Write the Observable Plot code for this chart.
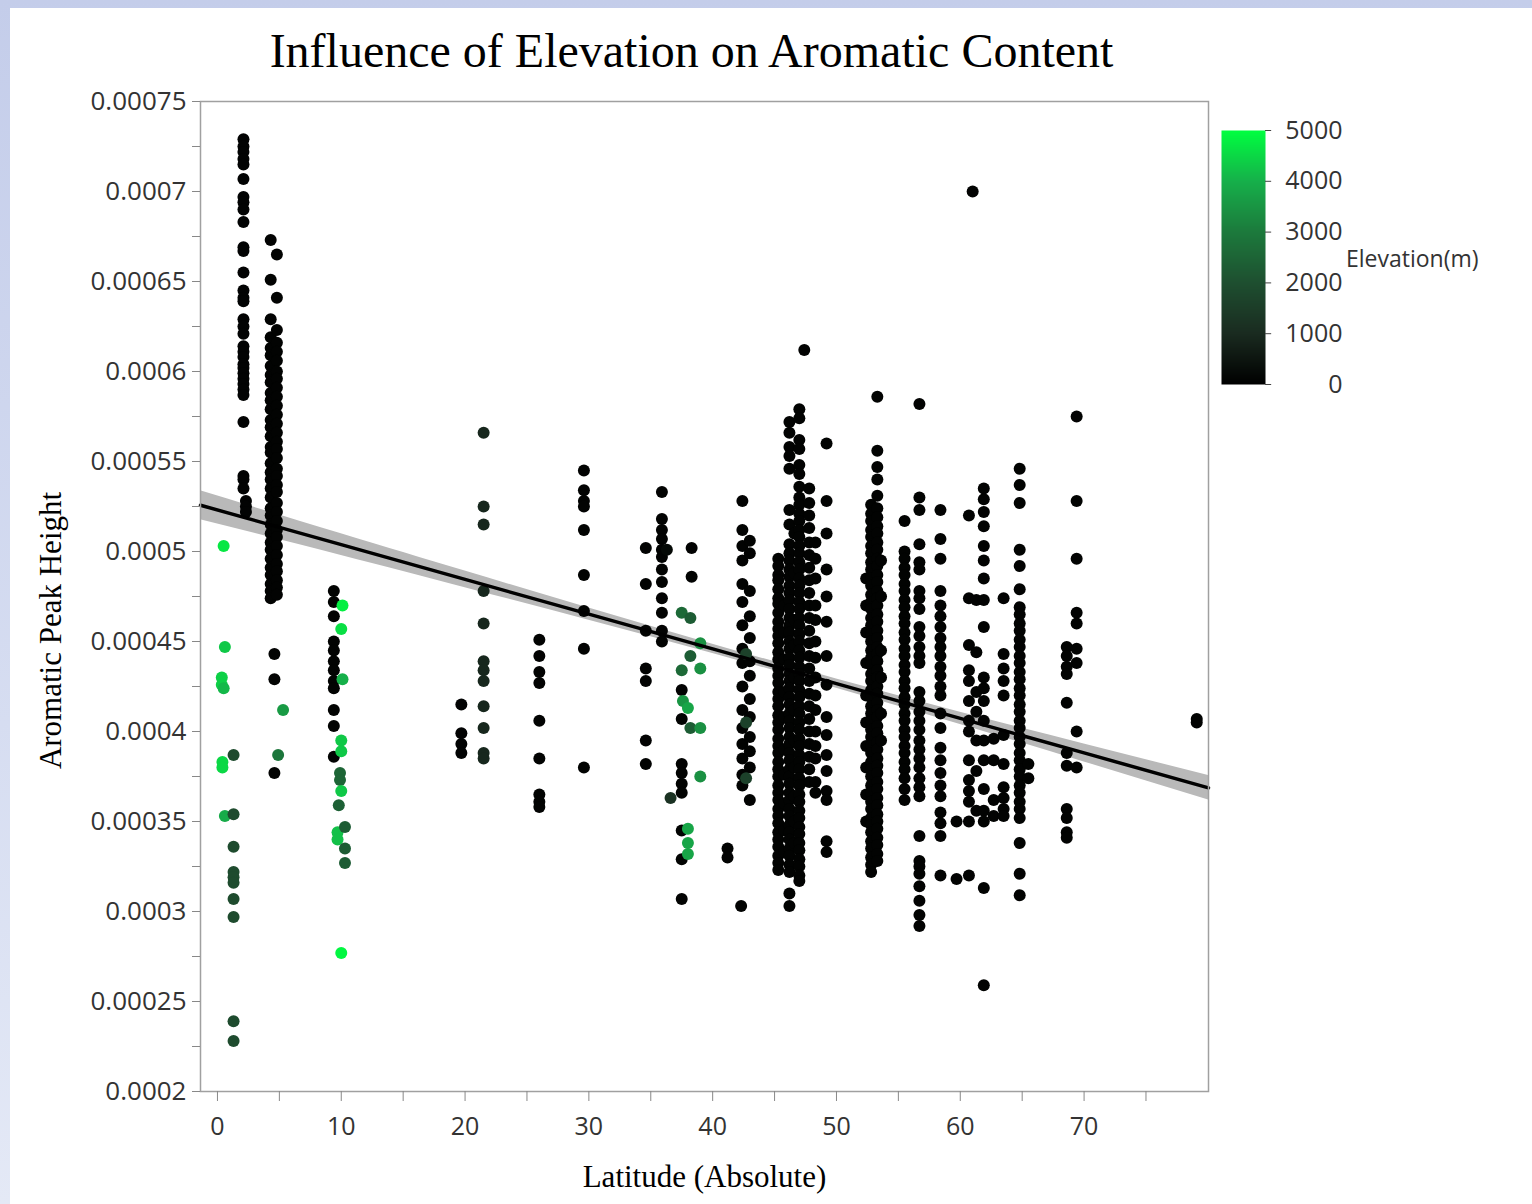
<!DOCTYPE html>
<html>
<head>
<meta charset="utf-8">
<script src="https://cdn.jsdelivr.net/npm/d3@7"></script>
<script src="https://cdn.jsdelivr.net/npm/@observablehq/plot@0.6"></script>
<style>
html, body { margin: 0; padding: 0; }
body { width: 1532px; height: 1204px; position: relative; overflow: hidden;
  background: linear-gradient(180deg, #c4cdea 0%, #d6ddf1 60%, #e4e9f6 100%); }
#panel { position: absolute; left: 10px; top: 8px; right: 0; bottom: 0; background: #fff; }
#title { position: absolute; left: 0; width: 1383px; top: 27px; text-align: center;
  font-family: "Liberation Serif", "Times New Roman", serif; font-size: 48px; line-height: 48px; color: #000; white-space: nowrap; }
#chart { position: absolute; left: 0; top: 0; }
#legend { position: absolute; left: 1180px; top: 100px; }
#legendTitle { position: absolute; left: 1346px; top: 243px; font-family: "Open Sans", sans-serif; font-size: 23px; line-height: 30px; color: #333; white-space: nowrap; }
</style>
</head>
<body>
<div id="panel"></div>
<div id="title">Influence of Elevation on Aromatic Content</div>
<div id="chart"></div>
<div id="legend"></div>
<div id="legendTitle">Elevation(m)</div>
<script>
// ---------- data (aromatic peak height in units of 1e-4) ----------
// each row: [absolute latitude, elevation (m), list of aromatic peak heights ×1e4]
const tropics = [
  [0.5, 4700, [5.03]],
  [0.6, 4300, [4.47]],
  [0.35, 4400, [4.30, 4.26]],
  [0.5, 4100, [4.24]],
  [0.4, 4500, [3.83, 3.80]],
  [0.6, 3900, [3.53]],
  [1.3, 1900, [3.87, 3.54, 3.36, 3.22, 3.19, 3.16, 3.07, 2.97, 2.39, 2.28]],
  [2.1, 80, [7.29, 7.25, 7.22, 7.18, 7.15, 7.07, 6.97, 6.94, 6.90, 6.83, 6.69, 6.67, 6.55, 6.45, 6.41, 6.39, 6.29, 6.25, 6.21, 6.14, 6.11, 6.08, 6.04, 6.02, 5.99, 5.96, 5.93, 5.90, 5.87, 5.72, 5.42, 5.40, 5.35]],
  [2.3, 80, [5.28, 5.25, 5.22]],
  [4.3, 60, [6.73, 6.51, 6.29, 6.19, 6.13, 6.09, 6.03, 5.98, 5.94, 5.88, 5.84, 5.79, 5.73, 5.69, 5.64, 5.58, 5.55, 5.49, 5.44, 5.40, 5.35, 5.30, 5.24, 5.20, 5.15, 5.10, 5.05, 5.01, 4.96, 4.91, 4.87, 4.82, 4.78, 4.74]],
  [4.8, 60, [6.65, 6.41, 6.23, 6.16, 6.11, 6.06, 6.00, 5.96, 5.91, 5.86, 5.81, 5.76, 5.71, 5.66, 5.61, 5.57, 5.52, 5.46, 5.42, 5.37, 5.33, 5.27, 5.22, 5.17, 5.12, 5.08, 5.03, 4.98, 4.93, 4.89, 4.84, 4.80, 4.76]],
  [4.6, 100, [4.43, 4.29, 3.77]],
  [4.9, 2900, [3.87]],
  [5.3, 3600, [4.12]],
  [9.4, 60, [4.78, 4.72, 4.64, 4.50, 4.45, 4.39, 4.34, 4.28, 4.24, 4.12, 4.03, 3.86]],
  [10.1, 4800, [4.70]],
  [10.0, 4600, [4.57]],
  [10.1, 4000, [4.29]],
  [10.0, 4300, [3.95, 3.89]],
  [9.9, 2500, [3.77, 3.73]],
  [10.0, 4300, [3.67]],
  [9.8, 2400, [3.59]],
  [9.7, 4200, [3.44, 3.40]],
  [10.3, 2300, [3.47, 3.35, 3.27]],
  [10.0, 4900, [2.77]]
];
const subtropics = [
  [19.7, 80, [4.15, 3.99, 3.93, 3.88]],
  [21.5, 900, [5.66, 5.25, 5.15, 4.78, 4.60, 4.39, 4.34, 4.28, 4.14, 4.02, 3.88, 3.85]],
  [26.0, 60, [4.51, 4.42, 4.33, 4.27, 4.06, 3.85, 3.65, 3.61, 3.58]],
  [29.6, 60, [5.45, 5.34, 5.28, 5.25, 5.12, 4.87, 4.67, 4.46, 3.80]],
  [34.6, 60, [5.02, 4.82, 4.56, 4.35, 4.28, 3.95, 3.82]],
  [35.9, 60, [5.33, 5.18, 5.12, 5.07, 5.01, 4.97, 4.90, 4.83, 4.74, 4.66, 4.56, 4.50]],
  [36.3, 200, [5.01]],
  [36.6, 1200, [3.63]],
  [38.3, 60, [5.02, 4.86]],
  [37.5, 60, [4.23, 4.07, 3.82, 3.77, 3.71, 3.66, 3.45, 3.29, 3.07]],
  [37.5, 2600, [4.66, 4.34]],
  [37.6, 3500, [4.17]],
  [38.2, 2300, [4.63, 4.42, 4.02]],
  [39.0, 3400, [4.49, 4.35, 4.02, 3.75]],
  [38.0, 3800, [4.13, 3.46, 3.38, 3.32]],
  [41.2, 60, [3.35, 3.30]],
  [42.3, 60, [3.03]]
];
const midLatitudes = [
  [42.4, 60, [5.28, 5.12, 5.03, 4.95, 4.82, 4.72, 4.59, 4.46, 4.38, 4.25, 4.12, 4.02, 3.93, 3.85, 3.76, 3.70]],
  [43.0, 60, [5.06, 4.99, 4.78, 4.64, 4.52, 4.39, 4.31, 4.18, 4.08, 3.97, 3.89, 3.80, 3.62]],
  [42.7, 1600, [4.43, 4.05, 3.74]],
  [45.3, 60, [4.96, 4.92, 4.87, 4.84, 4.79, 4.74, 4.71, 4.66, 4.61, 4.57, 4.53, 4.49, 4.44, 4.40, 4.35, 4.31, 4.27, 4.22, 4.18, 4.14, 4.09, 4.05, 4.01, 3.96, 3.92, 3.88, 3.83, 3.79, 3.75, 3.70, 3.66, 3.62, 3.57, 3.53, 3.49, 3.44, 3.40, 3.36, 3.31, 3.27, 3.23]],
  [45.8, 60, [4.70, 4.55, 4.40, 4.22, 4.08, 3.90, 3.76, 3.60, 3.45, 3.33]],
  [46.2, 60, [5.72, 5.66, 5.58, 5.53, 5.46, 5.23, 5.15, 5.04, 4.99, 4.95, 4.90, 4.86, 4.81, 4.77, 4.73, 4.68, 4.63, 4.59, 4.55, 4.50, 4.46, 4.41, 4.37, 4.32, 4.28, 4.24, 4.19, 4.15, 4.10, 4.06, 4.02, 3.97, 3.93, 3.88, 3.84, 3.79, 3.75, 3.71, 3.66, 3.62, 3.57, 3.53, 3.48, 3.44, 3.40, 3.35, 3.31, 3.26, 3.22, 3.10, 3.03]],
  [46.6, 60, [5.10, 4.88, 4.62, 4.48, 4.30, 4.12, 3.95, 3.80, 3.64, 3.50, 3.38]],
  [47.0, 60, [5.79, 5.74, 5.62, 5.57, 5.48, 5.43, 5.36, 5.30, 5.26, 5.21, 5.17, 5.12, 5.08, 5.03, 4.99, 4.94, 4.90, 4.85, 4.81, 4.77, 4.72, 4.68, 4.63, 4.59, 4.54, 4.50, 4.45, 4.41, 4.36, 4.32, 4.28, 4.23, 4.19, 4.14, 4.10, 4.05, 4.01, 3.96, 3.92, 3.87, 3.83, 3.79, 3.74, 3.70, 3.65, 3.61, 3.56, 3.52, 3.47, 3.43, 3.38, 3.34, 3.29, 3.25, 3.20, 3.17]],
  [47.4, 60, [6.12]],
  [47.8, 60, [5.35, 5.27, 5.20, 5.13, 5.05, 4.98, 4.91, 4.84, 4.77, 4.70, 4.63, 4.56, 4.49, 4.42, 4.35, 4.28, 4.21, 4.14, 4.07, 4.00, 3.93, 3.86, 3.79, 3.72]],
  [48.3, 60, [5.05, 4.96, 4.85, 4.70, 4.62, 4.50, 4.41, 4.30, 4.20, 4.12, 4.00, 3.92, 3.85, 3.72, 3.66]],
  [49.2, 60, [5.60, 5.28, 5.10, 4.90, 4.75, 4.61, 4.42, 4.26, 4.08, 3.98, 3.87, 3.78, 3.67, 3.62, 3.39, 3.33]],
  [52.4, 60, [4.85, 4.70, 4.55, 4.38, 4.20, 4.05, 3.92, 3.80, 3.65, 3.50]],
  [52.8, 60, [5.26, 5.21, 5.17, 5.12, 5.08, 5.03, 4.99, 4.94, 4.90, 4.85, 4.81, 4.76, 4.72, 4.68, 4.63, 4.59, 4.54, 4.50, 4.45, 4.41, 4.37, 4.32, 4.28, 4.23, 4.19, 4.14, 4.10, 4.06, 4.01, 3.97, 3.92, 3.88, 3.83, 3.79, 3.75, 3.70, 3.66, 3.61, 3.57, 3.52, 3.48, 3.44, 3.39, 3.35, 3.30, 3.26, 3.22]],
  [53.3, 60, [5.86, 5.56, 5.47, 5.40, 5.31, 5.24, 5.19, 5.14, 5.10, 5.05, 5.01, 4.96, 4.92, 4.87, 4.83, 4.78, 4.74, 4.70, 4.65, 4.61, 4.56, 4.52, 4.47, 4.43, 4.39, 4.34, 4.30, 4.25, 4.21, 4.16, 4.12, 4.08, 4.03, 3.99, 3.94, 3.90, 3.85, 3.81, 3.77, 3.72, 3.68, 3.63, 3.59, 3.54, 3.50, 3.46, 3.41, 3.37, 3.32, 3.28]],
  [53.6, 60, [4.95, 4.75, 4.45, 4.30, 4.10, 3.95]],
  [55.5, 60, [5.17, 5.00, 4.96, 4.91, 4.87, 4.82, 4.78, 4.73, 4.69, 4.64, 4.60, 4.55, 4.51, 4.46, 4.42, 4.37, 4.33, 4.28, 4.24, 4.19, 4.15, 4.10, 4.06, 4.01, 3.97, 3.92, 3.88, 3.83, 3.79, 3.74, 3.68, 3.62]],
  [56.7, 60, [5.82, 5.30, 5.23, 5.04, 4.94, 4.90, 4.78, 4.74, 4.68, 4.58, 4.53, 4.47, 4.42, 4.38, 4.22, 4.17, 4.11, 4.06, 4.01, 3.95, 3.90, 3.85, 3.80, 3.74, 3.69, 3.64, 3.42, 3.28, 3.25, 3.21, 3.14, 3.06, 2.98, 2.92]],
  [58.4, 60, [5.23, 5.07, 4.96, 4.78, 4.70, 4.64, 4.58, 4.52, 4.47, 4.42, 4.36, 4.31, 4.25, 4.20, 4.10, 4.02, 3.91, 3.84, 3.77, 3.70, 3.64, 3.55, 3.49, 3.42, 3.20]],
  [59.7, 60, [3.50, 3.18]]
];
const highLatitudes = [
  [61.0, 60, [7.00]],
  [60.7, 60, [5.20, 4.74, 4.48, 4.34, 4.28, 4.17, 4.06, 4.00, 3.84, 3.73, 3.67, 3.61, 3.50, 3.20]],
  [61.3, 60, [4.73, 4.44, 4.22, 4.11, 3.95, 3.78, 3.56]],
  [61.9, 60, [5.35, 5.29, 5.22, 5.14, 5.03, 4.95, 4.85, 4.73, 4.58, 4.30, 4.24, 4.17, 4.06, 3.95, 3.84, 3.68, 3.56, 3.50, 3.13, 2.59]],
  [62.7, 60, [3.96, 3.84, 3.62, 3.53]],
  [63.5, 60, [4.74, 4.43, 4.35, 4.28, 4.20, 3.98, 3.82, 3.69, 3.63, 3.57, 3.53]],
  [64.8, 60, [5.46, 5.37, 5.27, 5.01, 4.92, 4.79, 4.69, 4.65, 4.60, 4.56, 4.51, 4.47, 4.42, 4.38, 4.33, 4.29, 4.24, 4.20, 4.15, 4.11, 4.06, 4.02, 3.97, 3.93, 3.88, 3.84, 3.79, 3.75, 3.70, 3.66, 3.61, 3.57, 3.52, 3.38, 3.21, 3.09]],
  [65.5, 60, [3.82, 3.74]],
  [68.6, 60, [4.47, 4.42, 4.36, 4.32, 4.16, 3.88, 3.81, 3.57, 3.52, 3.44, 3.41]],
  [69.4, 60, [5.75, 5.28, 4.96, 4.66, 4.60, 4.46, 4.38, 4.00, 3.80]],
  [79.1, 60, [4.07, 4.05]]
];

// fitted regression line with its confidence band (×1e4)
const fitLat = [-1.37, 10, 20, 30, 40, 50, 60, 70, 80.05];
const fitValue = [5.257, 5.038, 4.845, 4.652, 4.459, 4.266, 4.073, 3.881, 3.687];
const fitHalfWidth = [0.08, 0.06, 0.046, 0.034, 0.026, 0.026, 0.034, 0.05, 0.068];

// axes and legend ticks
const xTicks = [0, 10, 20, 30, 40, 50, 60, 70];
const xMinorTicks = [5, 15, 25, 35, 45, 55, 65, 75];
const yTicks = [0.0002, 0.00025, 0.0003, 0.00035, 0.0004, 0.00045, 0.0005, 0.00055, 0.0006, 0.00065, 0.0007, 0.00075];
const yMinorTicks = [0.000225, 0.000275, 0.000325, 0.000375, 0.000425, 0.000475, 0.000525, 0.000575, 0.000625, 0.000675, 0.000725];
const legendTicks = [0, 1000, 2000, 3000, 4000, 5000];
const elevationStops = [0, 1000, 2000, 3000, 4000, 5000];
const elevationColors = ["#000000", "#1a2b20", "#1e4f30", "#1c7a3c", "#16b04a", "#00ff40"];

// ---------- build tables ----------
const UNIT = 1e-4;
const rows = [];
for (const group of [tropics, subtropics, midLatitudes, highLatitudes]) {
  for (const [lat, elevation, values] of group) {
    for (const v of values) rows.push({lat, elevation, aromatic: v * UNIT});
  }
}
const fitRows = fitLat.map((lat, i) => ({
  lat,
  fit: fitValue[i] * UNIT,
  lo: (fitValue[i] - fitHalfWidth[i]) * UNIT,
  hi: (fitValue[i] + fitHalfWidth[i]) * UNIT
}));

const colorScale = {type: "linear", domain: elevationStops, range: elevationColors, clamp: true};
const tickFont = "'Open Sans', 'Noto Sans', sans-serif";
const serif = "'Liberation Serif', 'Times New Roman', serif";

const chart = Plot.plot({
  width: 1215,
  height: 1204,
  marginLeft: 200,
  marginTop: 101,
  marginRight: 7,
  marginBottom: 113,
  style: {background: "transparent", fontFamily: tickFont, fontSize: "25px", color: "#333", overflow: "visible"},
  x: {domain: [-1.37, 80.05], label: null},
  y: {domain: [0.0002, 0.00075], label: null},
  color: colorScale,
  marks: [
    Plot.areaY(fitRows, {x: "lat", y1: "lo", y2: "hi", fill: "#b9b9b9", curve: "natural"}),
    Plot.dot(rows, {x: "lat", y: "aromatic", fill: "elevation", r: 6}),
    Plot.line(fitRows, {x: "lat", y: "fit", stroke: "#000", strokeWidth: 3.5}),
    Plot.frame({stroke: "#a0a0a0", strokeWidth: 1.5}),
    Plot.axisX({ticks: xMinorTicks, tickSize: 10, tickFormat: () => "", stroke: "#888", label: null}),
    Plot.axisX({ticks: xTicks, tickSize: 10, tickPadding: 16, tickFormat: d => String(d), stroke: "#888", fill: "#333", fontSize: 25, label: null}),
    Plot.axisY({ticks: yMinorTicks, tickSize: 8, tickFormat: () => "", stroke: "#888", label: null}),
    Plot.axisY({ticks: yTicks, tickSize: 8, tickPadding: 6, tickFormat: d => String(d), stroke: "#888", fill: "#333", fontSize: 26, label: null}),
    Plot.text(["Latitude (Absolute)"], {text: d => d, frameAnchor: "bottom", dy: 95, textAnchor: "middle", lineAnchor: "bottom", fontFamily: serif, fontSize: 31, fill: "#000"}),
    Plot.text(["Aromatic Peak Height"], {text: d => d, frameAnchor: "left", dx: -149, dy: 34, textAnchor: "middle", rotate: -90, fontFamily: serif, fontSize: 31, fill: "#000"})
  ]
});
document.getElementById("chart").appendChild(chart);

const legend = Plot.plot({
  width: 330,
  height: 310,
  marginLeft: 41,
  marginRight: 245,
  marginTop: 30,
  marginBottom: 26,
  style: {background: "transparent", fontFamily: tickFont, fontSize: "25px", color: "#333", overflow: "visible"},
  x: {domain: [0, 1], axis: null},
  y: {domain: [0, 5000], axis: null},
  color: colorScale,
  marks: [
    Plot.raster({x1: 0, x2: 1, y1: 0, y2: 5000, width: 1, height: 254, fill: (x, y) => y}),
    Plot.ruleY(legendTicks, {y: d => d, x1: 1, x2: 1.14, stroke: "#444"}),
    Plot.text(legendTicks, {x: 1, y: d => d, text: d => String(d), textAnchor: "end", dx: 77, fill: "#333", fontSize: 25})
  ]
});
document.getElementById("legend").appendChild(legend);
</script>
</body>
</html>
